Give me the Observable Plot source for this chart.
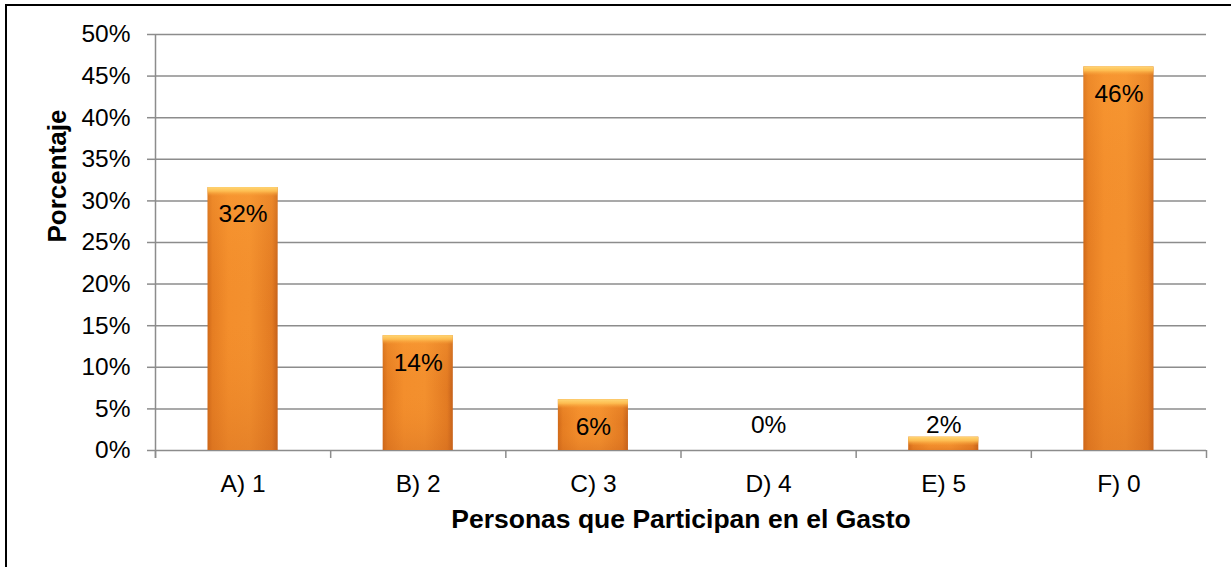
<!DOCTYPE html>
<html>
<head>
<meta charset="utf-8">
<script src="https://cdn.jsdelivr.net/npm/d3@7"></script>
<script src="https://cdn.jsdelivr.net/npm/@observablehq/plot@0.6"></script>
<style>
  html, body { margin: 0; padding: 0; background: #fff; }
  #wrap { position: relative; width: 1231px; height: 567px; overflow: hidden; }
  #border { position: absolute; left: 5px; top: 4px; width: 1300px; height: 700px;
            border-top: 2px solid #000; border-left: 2px solid #000; pointer-events: none; }
  #chart { position: absolute; left: 0; top: 0; }
</style>
</head>
<body>
<div id="wrap"><div id="chart"></div><div id="border"></div></div>
<script>
const categories = ["A) 1", "B) 2", "C) 3", "D) 4", "E) 5", "F) 0"];
const values = [31.6, 13.8, 6.1, 0, 1.6, 46.1];
const labels = ["32%", "14%", "6%", "0%", "2%", "46%"];
const yTicks = [0, 5, 10, 15, 20, 25, 30, 35, 40, 45, 50];
const xTitle = "Personas que Participan en el Gasto";
const yTitle = "Porcentaje";

const data = categories.map((c, i) => ({cat: c, v: values[i], label: labels[i]}));

const W = 1231, H = 567, mL = 155, mR = 25, mT = 34, mB = 117;
const step = (W - mL - mR) / categories.length;
const innerH = H - mT - mB;
const gray = "#8c8c8c";
const fs = 24.5;

const chart = Plot.plot({
  width: W, height: H,
  marginLeft: mL, marginRight: mR, marginTop: mT, marginBottom: mB,
  x: {domain: categories, paddingInner: 0.6, paddingOuter: 0.3, round: false, axis: null},
  y: {domain: [0, 50], axis: null},
  style: {fontFamily: "'Liberation Sans', Arial, sans-serif", fontSize: fs + "px", color: "#000", background: "#fff", overflow: "visible"},
  marks: [
    Plot.gridY(yTicks, {stroke: gray, strokeOpacity: 1, strokeWidth: 1.5}),
    Plot.axisY(yTicks, {tickSize: 8, tickPadding: 17, tickFormat: d => d + "%", stroke: gray, strokeWidth: 1.5, label: null, fontSize: fs}),
    Plot.ruleX([categories[0]], {x: d => d, dx: -step / 2, stroke: gray, strokeWidth: 1.5, insetBottom: -8}),
    Plot.ruleX(categories, {x: d => d, dx: -step / 2, stroke: gray, strokeWidth: 1.5, insetTop: innerH, insetBottom: -8}),
    Plot.ruleX([categories[categories.length - 1]], {x: d => d, dx: step / 2, stroke: gray, strokeWidth: 1.5, insetTop: innerH, insetBottom: -8}),
    Plot.barY(data, {x: "cat", y: "v", fill: "url(#barGrad)"}),
    Plot.barY(data.filter(d => d.v > 0), {x: "cat", y: "v", fill: "url(#vertGrad)"}),
    Plot.barY(data.filter(d => d.v > 0), {x: "cat", y1: "v", y2: "v", insetBottom: -9, fill: "url(#bevelGrad)"}),
    Plot.text(data.filter(d => d.v >= 5), {x: "cat", y: "v", text: "label", dy: 27, fill: "#000", fontSize: fs}),
    Plot.text(data.filter(d => d.v < 5), {x: "cat", y: 0, text: "label", dy: -25, fill: "#000", fontSize: fs}),
    Plot.axisX({tickSize: 0, tickPadding: 24, label: null, fontSize: fs, fill: "#000"}),
    Plot.text([xTitle], {frameAnchor: "bottom", dy: 77, fontWeight: "bold", fontSize: 26.5, fill: "#000"}),
    Plot.text([yTitle], {frameAnchor: "left", dx: -98, rotate: -90, fontWeight: "bold", fontSize: 26, fill: "#000"})
  ]
});

const svg = d3.select(chart);
const defs = svg.insert("defs", ":first-child");
const g1 = defs.append("linearGradient").attr("id", "barGrad").attr("x1", 0).attr("x2", 1).attr("y1", 0).attr("y2", 0);
[["0%", "#cf6818"], ["7%", "#e57d22"], ["30%", "#f38e2c"], ["60%", "#f3902e"], ["92%", "#e27a22"], ["100%", "#c4601a"]]
  .forEach(([o, c]) => g1.append("stop").attr("offset", o).attr("stop-color", c));
const gv = defs.append("linearGradient").attr("id", "vertGrad").attr("x1", 0).attr("x2", 0).attr("y1", 0).attr("y2", 1);
[["0%", "#ffa53a", 0.35], ["50%", "#f08a2a", 0], ["100%", "#c8621c", 0.3]]
  .forEach(([o, c, a]) => gv.append("stop").attr("offset", o).attr("stop-color", c).attr("stop-opacity", a));
const g2 = defs.append("linearGradient").attr("id", "bevelGrad").attr("x1", 0).attr("x2", 0).attr("y1", 0).attr("y2", 1);
[["0%", "#ffd775", 1], ["45%", "#ffc255", 0.9], ["100%", "#f8a23a", 0]]
  .forEach(([o, c, a]) => g2.append("stop").attr("offset", o).attr("stop-color", c).attr("stop-opacity", a));

document.getElementById("chart").appendChild(chart);
</script>
</body>
</html>
